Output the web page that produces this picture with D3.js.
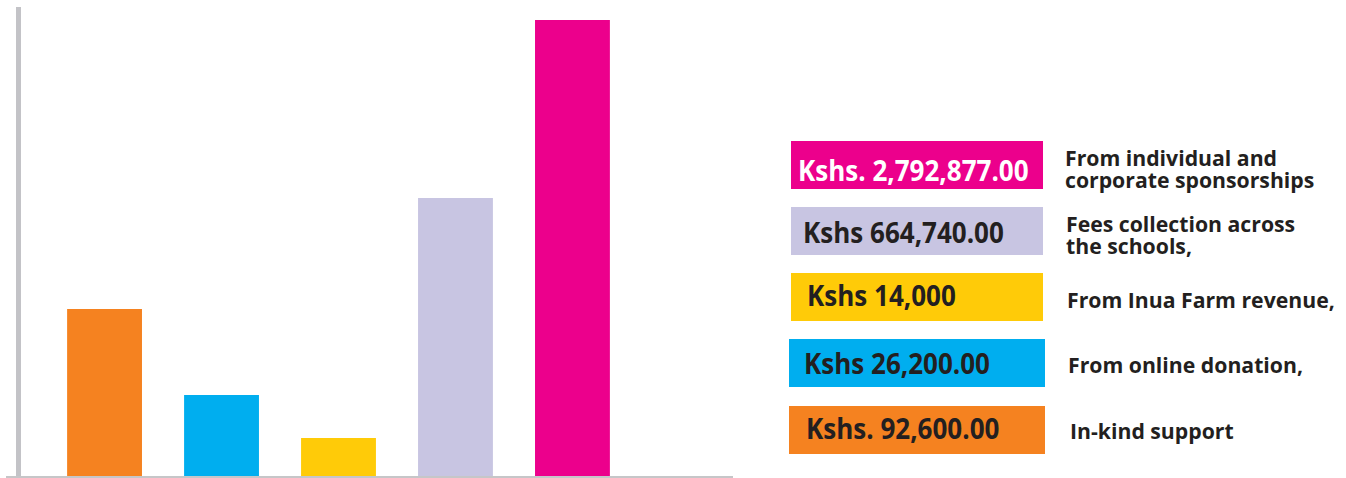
<!DOCTYPE html>
<html>
<head>
<meta charset="utf-8">
<script src="https://cdn.jsdelivr.net/npm/d3@7"></script>
<style>
  body { margin: 0; background: #fff; }
  svg { display: block; }
  .amt { font-family: "Open Sans", sans-serif; font-weight: 700; }
  .desc { font-family: "Open Sans", sans-serif; font-weight: 700; fill: #231f20; }
</style>
</head>
<body>
<div id="chart"></div>
<script>
// bar order, left to right
const categories = ["In-kind", "Online donation", "Inua Farm", "Fees", "Sponsorships"];
// bar heights as drawn in the picture (relative units, not proportional to Kshs)
const barLevels = [167, 81, 38, 278, 456];
const barColors = ["#f58220", "#00aeef", "#ffcb08", "#c8c5e2", "#ec008c"];
// legend, top to bottom
const legendAmounts = ["Kshs. 2,792,877.00", "Kshs 664,740.00", "Kshs 14,000", "Kshs 26,200.00", "Kshs. 92,600.00"];
const legendLabels = [
  ["From individual and", "corporate sponsorships"],
  ["Fees collection across", "the schools,"],
  ["From Inua Farm revenue,"],
  ["From online donation,"],
  ["In-kind support"]
];
const legendColors = ["#ec008c", "#c8c5e2", "#ffcb08", "#00aeef", "#f58220"];
const legendTextColors = ["#ffffff", "#231f20", "#231f20", "#231f20", "#231f20"];

const width = 1346, height = 478;
const svg = d3.select("#chart").append("svg")
    .attr("width", width)
    .attr("height", height);

const x = d3.scaleBand()
    .domain(categories)
    .range([25, 652])
    .paddingInner(0.36)
    .paddingOuter(0.36);

const y = d3.scaleLinear()
    .domain([0, 456])
    .range([476, 20]);

// bars
svg.selectAll("rect.bar")
    .data(categories)
    .join("rect")
    .attr("class", "bar")
    .attr("x", d => x(d))
    .attr("width", x.bandwidth())
    .attr("y", (d, i) => y(barLevels[i]))
    .attr("height", (d, i) => y(0) - y(barLevels[i]))
    .attr("fill", (d, i) => barColors[i]);

// axes (plain lines, no ticks)
svg.append("line")
    .attr("x1", 18.5).attr("x2", 18.5)
    .attr("y1", 7).attr("y2", 478)
    .attr("stroke", "#c3c3c7")
    .attr("stroke-width", 5);
svg.append("line")
    .attr("x1", 6).attr("x2", 733)
    .attr("y1", 477).attr("y2", 477)
    .attr("stroke", "#c6c6c8")
    .attr("stroke-width", 2);

// legend
const rowTop = [141, 207, 273, 339, 406];
const boxX = [791, 791, 791, 789, 789];
const boxW = [252, 252, 252, 256, 256];
const amtPad = [7, 12, 16, 15, 17];
const amtBase = [40, 36, 33, 35, 33];
const descX = [1065, 1066, 1067, 1068, 1070];
const descBase = [24, 24, 34, 33, 32];

const rows = svg.selectAll("g.leg")
    .data(legendAmounts)
    .join("g")
    .attr("class", "leg");

rows.append("rect")
    .attr("x", (d, i) => boxX[i])
    .attr("y", (d, i) => rowTop[i])
    .attr("width", (d, i) => boxW[i])
    .attr("height", 48)
    .attr("fill", (d, i) => legendColors[i]);

rows.append("text")
    .attr("class", "amt")
    .attr("transform", (d, i) => `translate(${boxX[i] + amtPad[i]},${rowTop[i] + amtBase[i]}) scale(0.93,1)`)
    .attr("font-size", 28)
    .attr("fill", (d, i) => legendTextColors[i])
    .text(d => d);

// description lines, one text per row with tspans
rows.append("text")
    .attr("class", "desc")
    .attr("transform", (d, i) => `translate(${descX[i]},${rowTop[i] + descBase[i] + 1}) scale(0.965,1)`)
    .attr("font-size", 22)
    .each(function(d, i) {
        d3.select(this).selectAll("tspan")
            .data(legendLabels[i])
            .join("tspan")
            .attr("x", 0)
            .attr("dy", (l, j) => j === 0 ? 0 : 21.5)
            .text(l => l);
    });
</script>
</body>
</html>
